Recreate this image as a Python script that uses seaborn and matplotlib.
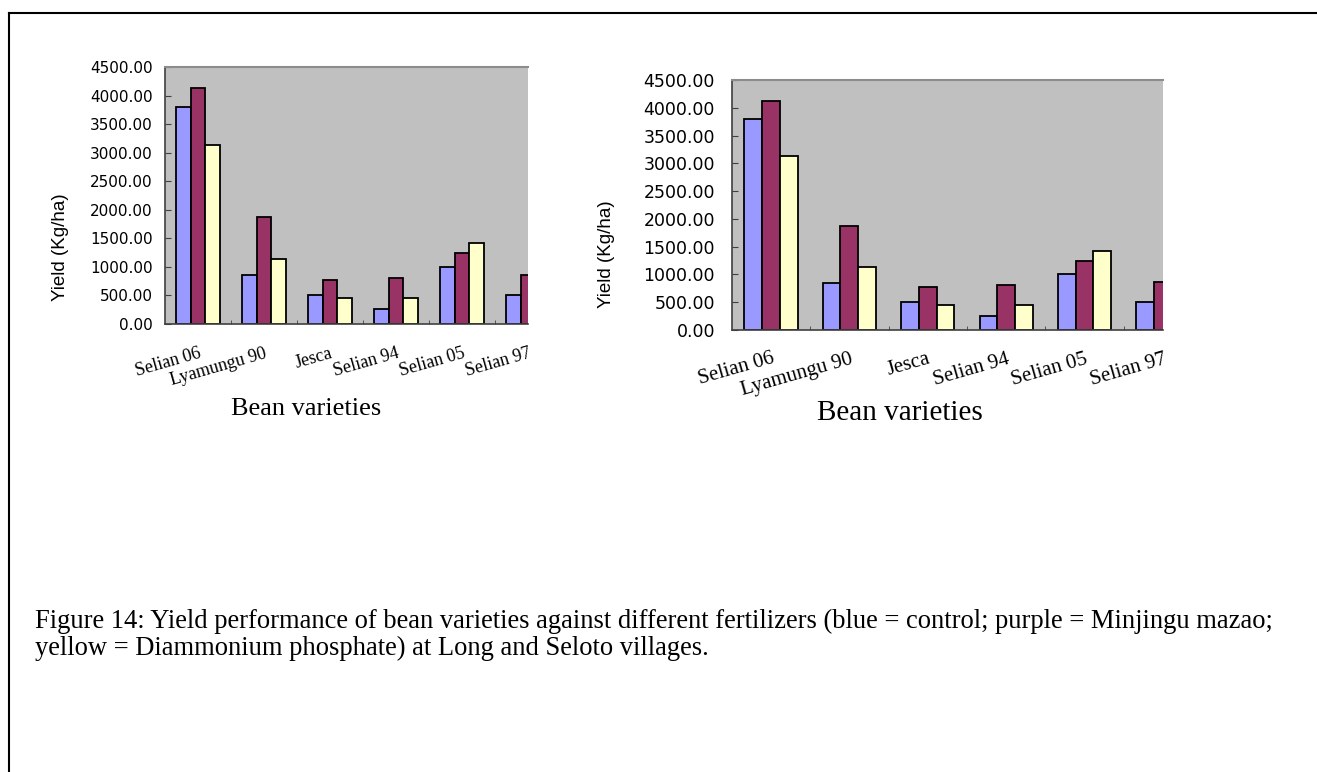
import numpy as np
import pandas as pd
import matplotlib
matplotlib.use("Agg")
import matplotlib.pyplot as plt
from matplotlib.lines import Line2D
from matplotlib.transforms import Bbox, TransformedBbox
import seaborn as sns

# ---- data (same values in both panels) ----
varieties = ["Selian 06", "Lyamungu 90", "Jesca", "Selian 94", "Selian 05", "Selian 97"]
fertilizers = ["Control", "Minjingu mazao", "Diammonium phosphate"]
control = [3805, 850, 500, 255, 1000, 500]
minjingu = [4127, 1880, 770, 810, 1248, 862]
dap = [3138, 1131, 447, 447, 1422, np.nan]  # last bar is cut off in the source
colors = ["#9999FF", "#993366", "#FFFFCC"]
yticks = [0, 500, 1000, 1500, 2000, 2500, 3000, 3500, 4000, 4500]
caption1 = ("Figure 14: Yield performance of bean varieties against different fertilizers "
            "(blue = control; purple = Minjingu mazao;")
caption2 = "yellow = Diammonium phosphate) at Long and Seloto villages."

rows = []
for f, vals in zip(fertilizers, [control, minjingu, dap]):
    for v, y in zip(varieties, vals):
        rows.append({"Variety": v, "Fertilizer": f, "Yield": y})
df = pd.DataFrame(rows).dropna()

W, H = 1317, 772
fig = plt.figure(figsize=(W / 100, H / 100), dpi=100)
fig.patch.set_facecolor("white")


def px_axes(l, t, r, b):
    return fig.add_axes([l / W, 1 - b / H, (r - l) / W, (b - t) / H])


def draw_panel(ax, cfg):
    sns.barplot(data=df, x="Variety", y="Yield", hue="Fertilizer",
                order=varieties, hue_order=fertilizers, palette=colors,
                width=0.68, edgecolor="black", linewidth=1.3, saturation=1,
                legend=False, ax=ax)
    ax.set_facecolor("#C0C0C0")
    ax.set_xlim(-0.5, 5.0)
    ax.set_ylim(0, 4500)
    ax.set_yticks(yticks)
    ax.set_yticklabels([f"{v:.2f}" for v in yticks], family="DejaVu Sans",
                       fontsize=cfg["ytick"])
    ax.tick_params(axis="y", direction="in", length=4, color="#404040",
                   pad=cfg["ypad"])
    ax.set_xticks(range(len(varieties)))
    ax.set_xticklabels(varieties, family="Liberation Serif", fontsize=cfg["xtick"])
    plt.setp(ax.get_xticklabels(), rotation=16, ha="right", va="top",
             rotation_mode="anchor")
    ax.tick_params(axis="x", which="major", length=0, pad=cfg["xpad"])
    ax.set_xticks(np.arange(0.5, 5.0, 1.0), minor=True)
    ax.tick_params(axis="x", which="minor", direction="in", length=3,
                   color="#404040")
    for s in ["left", "bottom"]:
        ax.spines[s].set_color("#404040")
        ax.spines[s].set_linewidth(1.2)
    ax.spines["top"].set_color("#8c8c8c")
    ax.spines["top"].set_linewidth(1.5)
    ax.spines["right"].set_visible(False)

    ax.set_ylabel("Yield (Kg/ha)", family="Liberation Sans", fontsize=13.5,
                  va="center")
    ax.yaxis.set_label_coords(*cfg["ylab"])
    ax.set_xlabel("Bean varieties", family="Liberation Serif",
                  fontsize=cfg["xlabel"])
    ax.xaxis.set_label_coords(*cfg["xlab"])
    lbl = ax.xaxis.label
    lbl.set_clip_on(True)
    lbl.set_clip_box(TransformedBbox(Bbox.from_extents(0, 1 - cfg["clip"] / H, 1, 1),
                                     fig.transFigure))


axL = px_axes(165, 67, 528, 324)
draw_panel(axL, dict(ytick=11, ypad=9, xtick=13, xpad=15, xlabel=19,
                     ylab=(-0.289, 0.30), xlab=(0.388, -0.288), clip=417))

axR = px_axes(731.7, 80, 1163, 330)
draw_panel(axR, dict(ytick=12.5, ypad=12, xtick=15, xpad=14, xlabel=21,
                     ylab=(-0.291, 0.304), xlab=(0.39, -0.28), clip=420))

# figure border (left and top only are visible)
fig.add_artist(Line2D([9 / W, 1], [1 - 13 / H, 1 - 13 / H],
                      transform=fig.transFigure, color="black", lw=1.5))
fig.add_artist(Line2D([9 / W, 9 / W], [0, 1 - 13 / H],
                      transform=fig.transFigure, color="black", lw=1.5))

fig.text(35 / W, 1 - 628 / H, caption1, family="Liberation Serif", fontsize=19.1,
         va="baseline", ha="left")
fig.text(35 / W, 1 - 655 / H, caption2, family="Liberation Serif", fontsize=19.1,
         va="baseline", ha="left")

fig.savefig("out.png", dpi=100)
